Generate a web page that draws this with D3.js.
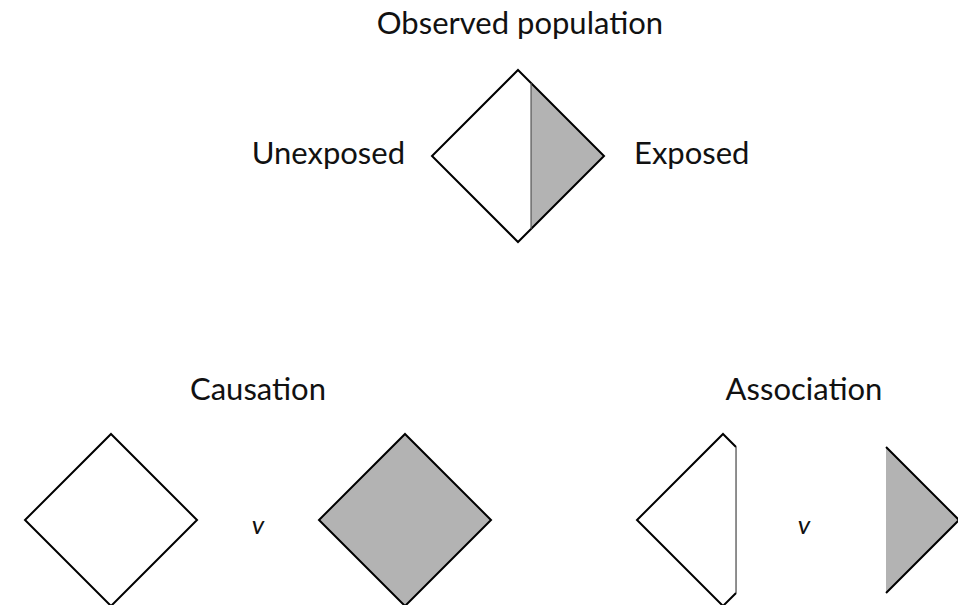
<!DOCTYPE html>
<html>
<head>
<meta charset="utf-8">
<script src="https://cdn.jsdelivr.net/npm/d3@7"></script>
<style>
  html, body { margin: 0; padding: 0; background: #fff; }
  svg { display: block; }
  text { font-family: Lato, "Noto Sans", sans-serif; fill: #111; }
</style>
</head>
<body>
<div id="vis"></div>
<script>
// data
const panelTitles = ["Observed population", "Causation", "Association"];
const groupLabels = ["Unexposed", "Exposed"];
const comparisonMark = "v";
const exposedShare = 0.36;   // share of the diamond's area that is exposed

// which piece of the population each shape shows, per panel
const panelShapes = [
  ["both"],
  ["allUnexposed", "allExposed"],
  ["unexposedPart", "exposedPart"]
];

//#region layout

const width = 958;
const height = 605;
const radius = 86;
const grey = "#b3b3b3";
const fontSize = 31;

// offset of the split line from the centre, in diamond units
const split = 1 - Math.sqrt(2 * exposedShare);

// panel anchors
const panelCenters = [[518, 156], [258, 520], [798, 520]];
const labelX = [520, 258, 804];
const titleY = [34, 400, 400];
const pairGap = [0, 147, 75];  // distance from panel centre to each diamond centre

const unit = d3.scaleLinear().domain([-1, 1]).range([-radius, radius]);

const diamond = [[0, -1], [1, 0], [0, 1], [-1, 0]];
const unexposedPoly = [[0, -1], [split, -(1 - split)], [split, 1 - split], [0, 1], [-1, 0]];
const exposedPoly = [[split, -(1 - split)], [1, 0], [split, 1 - split]];

//#endregion

const svg = d3.select("#vis")
  .append("svg")
    .attr("width", width)
    .attr("height", height);

const line = d3.line().x(d => unit(d[0])).y(d => unit(d[1]));
const closed = pts => line(pts) + "Z";

function drawShape(g, kind) {
  if (kind === "both") {
    g.append("path").attr("d", closed(exposedPoly)).attr("fill", grey);
    g.append("path").attr("d", closed(diamond))
      .attr("fill", "none").attr("stroke", "#000").attr("stroke-width", 2);
    g.append("line")
      .attr("x1", unit(split)).attr("x2", unit(split))
      .attr("y1", unit(-(1 - split))).attr("y2", unit(1 - split))
      .attr("stroke", "#555").attr("stroke-width", 1.2);
  } else if (kind === "allUnexposed" || kind === "allExposed") {
    g.append("path").attr("d", closed(diamond))
      .attr("fill", kind === "allExposed" ? grey : "#fff")
      .attr("stroke", "#000").attr("stroke-width", 2)
      .attr("stroke-linejoin", "miter");
  } else if (kind === "unexposedPart") {
    g.append("path").attr("d", closed(unexposedPoly)).attr("fill", "#fff");
    g.append("path")
      .attr("d", line([unexposedPoly[2], unexposedPoly[3], unexposedPoly[4], unexposedPoly[0], unexposedPoly[1]]))
      .attr("fill", "none").attr("stroke", "#000").attr("stroke-width", 2);
    g.append("line")
      .attr("x1", unit(split)).attr("x2", unit(split))
      .attr("y1", unit(-(1 - split))).attr("y2", unit(1 - split))
      .attr("stroke", "#444").attr("stroke-width", 1.2);
  } else if (kind === "exposedPart") {
    g.append("path").attr("d", closed(exposedPoly)).attr("fill", grey);
    g.append("path")
      .attr("d", line(exposedPoly))
      .attr("fill", "none").attr("stroke", "#000").attr("stroke-width", 2);
  }
}

panelTitles.forEach((title, i) => {
  const [cx, cy] = panelCenters[i];
  const shapes = panelShapes[i];

  svg.append("text")
    .attr("x", labelX[i])
    .attr("y", titleY[i])
    .attr("text-anchor", "middle")
    .attr("font-size", fontSize)
    .text(title);

  const slot = d3.scalePoint()
    .domain(shapes)
    .range([-pairGap[i], pairGap[i]]);

  shapes.forEach(kind => {
    const g = svg.append("g")
      .attr("transform", `translate(${cx + slot(kind)},${cy})`);
    drawShape(g, kind);
  });

  if (shapes.length > 1) {
    svg.append("text")
      .attr("x", labelX[i])
      .attr("y", cy + 14)
      .attr("text-anchor", "middle")
      .attr("font-size", 26)
      .attr("font-style", "italic")
      .text(comparisonMark);
  }
});

// group labels either side of the observed population
const [ox, oy] = panelCenters[0];
svg.selectAll(".group-label")
  .data(groupLabels)
  .join("text")
    .attr("class", "group-label")
    .attr("x", (d, i) => i === 0 ? ox + unit(-1) - 27 : ox + unit(1) + 30)
    .attr("y", oy + 8)
    .attr("text-anchor", (d, i) => i === 0 ? "end" : "start")
    .attr("font-size", fontSize)
    .text(d => d);
</script>
</body>
</html>
